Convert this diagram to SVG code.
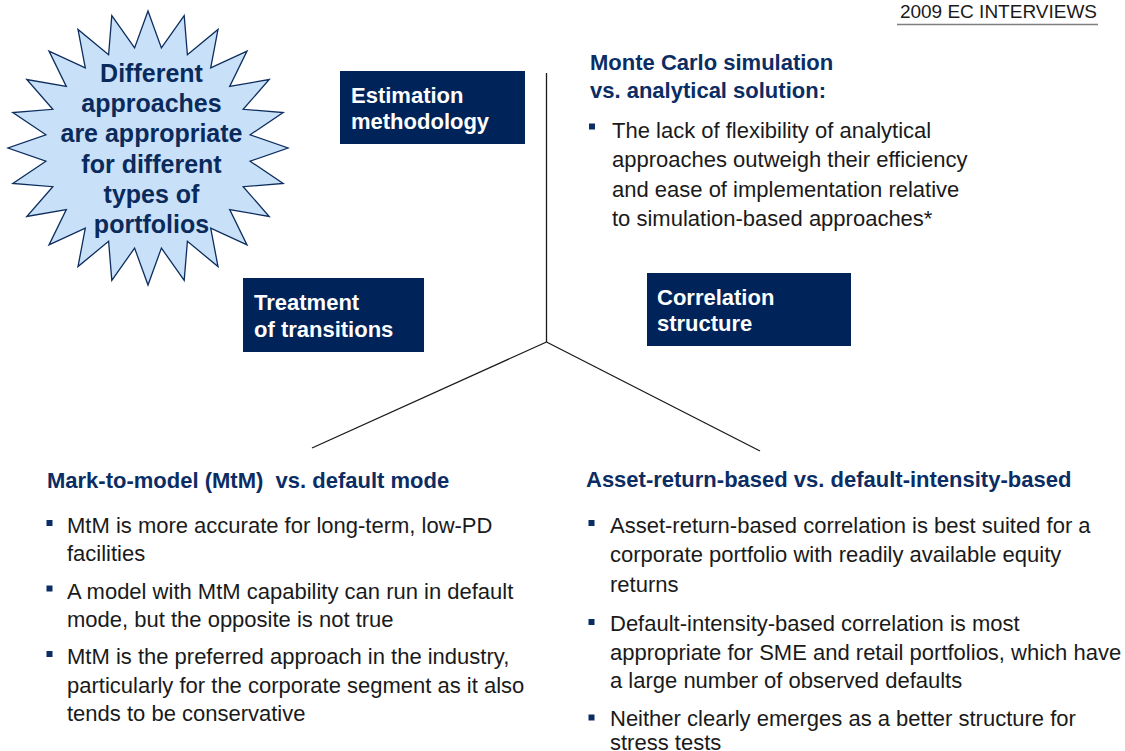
<svg xmlns="http://www.w3.org/2000/svg" width="1125" height="751" viewBox="0 0 1125 751">
<style>
text{font-family:"Liberation Sans",Arial,sans-serif}
.hdr{font-size:19px;fill:#1a1a1a}
.star{font-size:25px;font-weight:bold;fill:#0b2a5c;text-anchor:middle}
.box{fill:#00245a}
.bt{font-size:22px;font-weight:bold;fill:#ffffff}
.h{font-size:22px;font-weight:bold;fill:#0b2d64}
.b{font-size:22px;fill:#1a1a1a}
.sq{fill:#0b2d64}
.ln{stroke:#1a1a1a;stroke-width:1.3;fill:none}
</style>
<rect width="1125" height="751" fill="#ffffff"/>
<g id="header">
<text class="hdr" x="1097" y="18.3" text-anchor="end">2009 EC INTERVIEWS</text>
<line x1="897" y1="24.5" x2="1098" y2="24.5" stroke="#7f7f7f" stroke-width="1.6"/>
</g>
<g id="starburst">
<polygon fill="#c8e0f8" stroke="#0d2d5e" stroke-width="1.3" points="148,11 161.4,47.9 184.2,15.7 187.4,54.7 218,29.4 210.7,67.9 247,51.1 229.7,86.5 269.2,79.5 243.2,109.3 283.2,112.5 250.1,134.8 288,148 250.1,161.2 283.2,183.5 243.2,186.7 269.2,216.5 229.7,209.5 247,244.9 210.7,228.1 218,266.6 187.4,241.3 184.2,280.3 161.4,248.1 148,285 134.6,248.1 111.8,280.3 108.6,241.3 78,266.6 85.3,228.1 49,244.9 66.3,209.5 26.8,216.5 52.8,186.7 12.8,183.5 45.9,161.2 8,148 45.9,134.8 12.8,112.5 52.8,109.3 26.8,79.5 66.3,86.5 49,51.1 85.3,67.9 78,29.4 108.6,54.7 111.8,15.7 134.6,47.9"/>
<text class="star" x="151.5" y="81.7">Different</text>
<text class="star" x="151.5" y="112">approaches</text>
<text class="star" x="151.5" y="142.3">are appropriate</text>
<text class="star" x="151.5" y="172.6">for different</text>
<text class="star" x="151.5" y="202.9">types of</text>
<text class="star" x="151.5" y="233.2">portfolios</text>
</g>
<g id="connectors">
<line class="ln" x1="546.5" y1="73" x2="546.5" y2="342"/>
<line class="ln" x1="546.5" y1="342" x2="312" y2="448"/>
<line class="ln" x1="546.5" y1="342" x2="760" y2="451"/>
</g>
<g id="estimation">
<rect class="box" x="340" y="71" width="185" height="73"/>
<text class="bt" x="351" y="103.3">Estimation</text>
<text class="bt" x="351" y="129">methodology</text>
</g>
<g id="transitions">
<rect class="box" x="243" y="278" width="181" height="74"/>
<text class="bt" x="254" y="310">Treatment</text>
<text class="bt" x="254" y="337">of transitions</text>
</g>
<g id="correlation">
<rect class="box" x="647" y="273" width="204" height="73"/>
<text class="bt" x="657" y="305">Correlation</text>
<text class="bt" x="657" y="331">structure</text>
</g>
<g id="montecarlo">
<text class="h" x="590" y="69.5">Monte Carlo simulation</text>
<text class="h" x="590" y="98">vs. analytical solution:</text>
<rect class="sq" x="589" y="123.5" width="6" height="6"/>
<text class="b" x="612" y="137.5">The lack of flexibility of analytical</text>
<text class="b" x="612" y="167">approaches outweigh their efficiency</text>
<text class="b" x="612" y="196.5">and ease of implementation relative</text>
<text class="b" x="612" y="226">to simulation-based approaches*</text>
</g>
<g id="mtm">
<text class="h" x="47" y="488" xml:space="preserve">Mark-to-model (MtM)  vs. default mode</text>
<rect class="sq" x="46.5" y="520" width="6" height="6"/>
<text class="b" x="67" y="533">MtM is more accurate for long-term, low-PD</text>
<text class="b" x="67" y="561">facilities</text>
<rect class="sq" x="46.5" y="585.5" width="6" height="6"/>
<text class="b" x="67" y="598.5">A model with MtM capability can run in default</text>
<text class="b" x="67" y="626.5">mode, but the opposite is not true</text>
<rect class="sq" x="46.5" y="651" width="6" height="6"/>
<text class="b" x="67" y="664">MtM is the preferred approach in the industry,</text>
<text class="b" x="67" y="692.5">particularly for the corporate segment as it also</text>
<text class="b" x="67" y="721">tends to be conservative</text>
</g>
<g id="assetreturn">
<text class="h" x="586" y="487">Asset-return-based vs. default-intensity-based</text>
<rect class="sq" x="588.5" y="520" width="6" height="6"/>
<text class="b" x="610" y="533">Asset-return-based correlation is best suited for a</text>
<text class="b" x="610" y="562">corporate portfolio with readily available equity</text>
<text class="b" x="610" y="592">returns</text>
<rect class="sq" x="588.5" y="619" width="6" height="6"/>
<text class="b" x="610" y="631">Default-intensity-based correlation is most</text>
<text class="b" x="610" y="659.5">appropriate for SME and retail portfolios, which have</text>
<text class="b" x="610" y="687.5">a large number of observed defaults</text>
<rect class="sq" x="588.5" y="714.5" width="6" height="6"/>
<text class="b" x="610" y="726">Neither clearly emerges as a better structure for</text>
<text class="b" x="610" y="750">stress tests</text>
</g>
</svg>
